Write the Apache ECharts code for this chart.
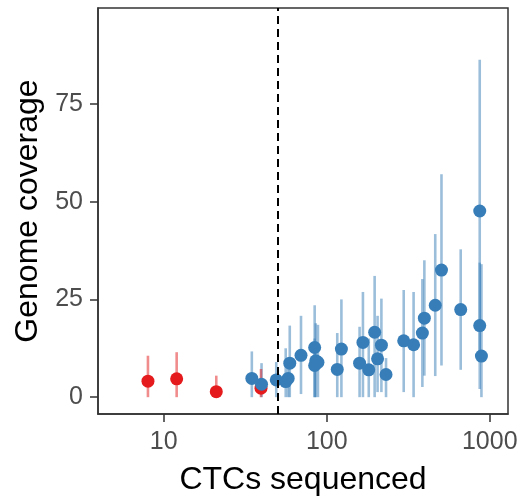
<!doctype html>
<html>
<head>
  <meta charset="utf-8">
  <title>Genome coverage vs CTCs sequenced</title>
  <script src="https://cdn.jsdelivr.net/npm/echarts@6/dist/echarts.min.js"></script>
  <style>
    html, body { margin: 0; padding: 0; background: #fff; }
    #main { width: 523px; height: 501px; }
  </style>
</head>
<body>
<div id="main"></div>
<script>
  // samples below the cutoff (red)
  var redX = [8, 12, 21, 39.5];
  var redY = [4.1, 4.7, 1.4, 2.3];
  var redLo = [0, 0, 0, 0];
  var redHi = [10.6, 11.5, 5.5, 7.2];

  // samples above the cutoff (blue)
  var blueX = [34.7, 39.8, 49, 56, 58, 59.3, 69.5, 84.3, 85.6, 88.3, 84.3, 116, 123, 159, 166.7,
    181, 196.7, 205, 216.4, 231, 296.6, 341, 386, 397, 463, 505.6, 663.5, 868, 889, 868];
  var blueY = [4.8, 3.3, 4.4, 4.0, 4.8, 8.7, 10.7, 12.7, 9.3, 8.9, 8.1, 7.1, 12.3, 8.7, 14.0,
    7.0, 16.6, 9.8, 13.3, 5.8, 14.4, 13.4, 16.4, 20.2, 23.5, 32.5, 22.4, 18.3, 10.5, 47.6];
  var blueLo = [0, 0, 0, 0, 0, 0, 0.8, 0, 0, 0, 0, 0, 0, 0, 0,
    0, 0, 1.3, 1.3, 0, 1.3, 0, 2.6, 5.5, 5.4, 8.1, 7.0, 2.1, 0, 9];
  var blueHi = [11.7, 8.7, 9, 12.5, 9, 18.3, 20.8, 23.5, 18.9, 18.5, 15, 16.4, 25, 18, 26.9,
    15, 31, 20.8, 25.2, 10, 27.4, 26.9, 30.2, 35, 41.7, 57, 37.8, 34.4, 34, 86.3];

  var cutoff = 50;
  var xTicks = [10, 100, 1000];
  var yTicks = [0, 25, 50, 75];

  function zip(xs, ys) {
    return xs.map(function (x, i) { return [x, ys[i]]; });
  }
  function bars(xs, lo, hi) {
    return xs.map(function (x, i) { return [x, lo[i], hi[i]]; });
  }

  function errorBar(color) {
    return function (params, api) {
      var a = api.coord([api.value(0), api.value(1)]);
      var b = api.coord([api.value(0), api.value(2)]);
      return {
        type: 'line',
        shape: { x1: a[0], y1: a[1], x2: b[0], y2: b[1] },
        style: { stroke: color, lineWidth: 2.6 }
      };
    };
  }

  var font = 'Liberation Sans, Arial, Helvetica, sans-serif';

  var option = {
    animation: false,
    grid: {
      left: 98, right: 15, top: 8, bottom: 86,
      show: true, borderColor: '#333333', borderWidth: 1.5
    },
    xAxis: {
      type: 'log',
      logBase: 10,
      min: 3.95,
      max: 1294,
      name: 'CTCs sequenced',
      nameLocation: 'middle',
      nameGap: 50,
      nameTextStyle: { fontFamily: font, fontSize: 32, color: '#000' },
      axisLine: { onZero: false, lineStyle: { color: '#333333', width: 1.5 } },
      axisTick: { customValues: xTicks, length: 8, lineStyle: { color: '#333333', width: 1.5 } },
      axisLabel: {
        customValues: xTicks, margin: 16, fontFamily: font, fontSize: 25, color: '#4D4D4D',
        formatter: function (v) { return String(Math.round(v)); }
      },
      splitLine: { show: false },
      minorSplitLine: { show: false }
    },
    yAxis: {
      type: 'value',
      min: -4.3,
      max: 99.5,
      name: 'Genome coverage',
      nameLocation: 'middle',
      nameRotate: 90,
      nameGap: 54,
      nameTextStyle: { fontFamily: font, fontSize: 32, color: '#000' },
      axisLine: { show: true, onZero: false, lineStyle: { color: '#333333', width: 1.5 } },
      axisTick: { show: true, customValues: yTicks, length: 8, lineStyle: { color: '#333333', width: 1.5 } },
      axisLabel: { customValues: yTicks, margin: 15, fontFamily: font, fontSize: 25, color: '#4D4D4D' },
      splitLine: { show: false }
    },
    series: [
      {
        type: 'custom',
        renderItem: errorBar('rgba(55,126,184,0.5)'),
        data: bars(blueX, blueLo, blueHi),
        z: 1
      },
      {
        type: 'custom',
        renderItem: errorBar('rgba(228,26,28,0.5)'),
        data: bars(redX, redLo, redHi),
        z: 1
      },
      {
        type: 'scatter',
        symbolSize: 13,
        itemStyle: { color: '#E41A1C', opacity: 1 },
        data: zip(redX, redY),
        z: 2
      },
      {
        type: 'scatter',
        symbolSize: 13,
        itemStyle: { color: '#377EB8', opacity: 1 },
        data: zip(blueX, blueY),
        z: 3
      },
      {
        type: 'scatter',
        data: [],
        z: 5,
        markLine: {
          silent: true,
          symbol: 'none',
          label: { show: false },
          lineStyle: { color: '#000', width: 2, type: [8, 5] },
          data: [{ xAxis: cutoff }]
        }
      }
    ]
  };

  var chart = echarts.init(document.getElementById('main'));
  chart.setOption(option);
</script>
</body>
</html>
